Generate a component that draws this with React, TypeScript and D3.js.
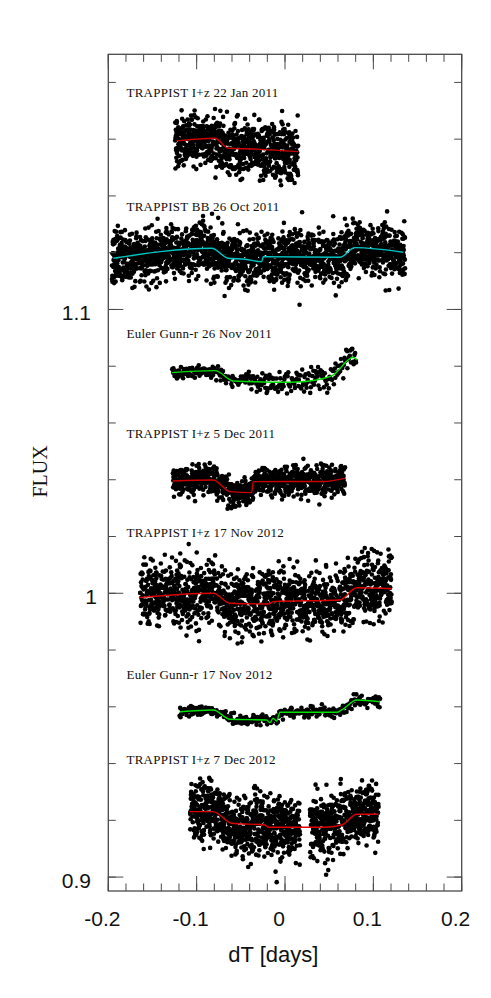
import React from 'react';
import * as d3 from 'd3';

const W = 491;
const H = 998;

// Axis ticks
const xMajor = [-0.2, -0.1, 0, 0.1, 0.2];
const xMajorLabels = ['-0.2', '-0.1', '0', '0.1', '0.2'];
const yMajor = [0.9, 1.0, 1.1];
const yMajorLabels = ['0.9', '1', '1.1'];

// Light-curve titles and their annotation positions (data units)
const titles = [
  'TRAPPIST I+z 22 Jan 2011',
  'TRAPPIST BB 26 Oct 2011',
  'Euler Gunn-r 26 Nov 2011',
  'TRAPPIST I+z 5 Dec 2011',
  'TRAPPIST I+z 17 Nov 2012',
  'Euler Gunn-r 17 Nov 2012',
  'TRAPPIST I+z 7 Dec 2012',
];
const titleFlux = [1.1748, 1.1348, 1.0899, 1.0548, 1.0199, 0.9698, 0.9397];
const titleT = -0.1794;
const lineColors = ['#cc0000', '#00c4c4', '#00dd00', '#cc0000', '#dd0000', '#00e000', '#dd0000'];

// Best-fit model curves
const m1T = [-0.1226, -0.0792, -0.0642, -0.032, 0.015];
const m1F = [1.1594, 1.1603, 1.1568, 1.1565, 1.1556];

const m2T = [-0.1943, -0.083, -0.0642, -0.0453, -0.0264, -0.0246, 0.0623, 0.0792, 0.1339];
const m2F = [1.11804, 1.12156, 1.11804, 1.1177, 1.11684, 1.1186, 1.1184, 1.12178, 1.12016];

const m3T = [-0.1282, -0.0792, -0.0585, 0.0057, 0.0359, 0.0547, 0.0773, 0.0811];
const m3F = [1.07773, 1.07843, 1.0748, 1.07435, 1.07516, 1.07692, 1.08316, 1.0822];

const m4T = [-0.1271, -0.0812, -0.0623, -0.0377, -0.0359, 0.0434, 0.0679];
const m4F = [1.03957, 1.03992, 1.0358, 1.03545, 1.03932, 1.0394, 1.0405];

const m5T = [-0.1653, -0.0812, -0.0623, -0.0189, -0.0132, 0.0623, 0.0811, 0.1208];
const m5F = [0.99845, 1.0, 0.99648, 0.99623, 0.99704, 0.99764, 1.00197, 1.0016];

const m6T = [-0.1188, -0.0812, -0.0623, -0.0207, -0.017, -0.0136, -0.0094, -0.0057, 0.0585, 0.0642, 0.0811, 0.1075];
const m6F = [0.95828, 0.95888, 0.9556, 0.95536, 0.9544, 0.95596, 0.95501, 0.95807, 0.95807, 0.95888, 0.9624, 0.9618];

const m7T = [-0.1075, -0.0812, -0.0604, -0.0226, -0.0192, 0.0434, 0.0642, 0.0811, 0.1056];
const m7F = [0.92305, 0.92305, 0.91896, 0.91836, 0.91755, 0.91755, 0.91836, 0.92213, 0.92213];

const modelT = [m1T, m2T, m3T, m4T, m5T, m6T, m7T];
const modelF = [m1F, m2F, m3F, m4F, m5F, m6F, m7F];

// Observation windows, number of points and photometric scatter (start/end)
const obsWindows = [
  [[-0.1245, 0.015]],
  [[-0.196, 0.136]],
  [[-0.128, 0.081]],
  [[-0.127, 0.068]],
  [[-0.164, 0.121]],
  [[-0.12, 0.108]],
  [[-0.1075, 0.017], [0.028, 0.106]],
];
const nPoints = [780, 1900, 280, 820, 1500, 320, 1250];
const sigmaStart = [0.0042, 0.0045, 0.0009, 0.0026, 0.0056, 0.0009, 0.0052];
const sigmaEnd = [0.0055, 0.0045, 0.0024, 0.0026, 0.0052, 0.0011, 0.0052];
const seeds = [0.11, 0.23, 0.37, 0.41, 0.53, 0.67, 0.79];

const x = d3.scaleLinear().domain([-0.2, 0.2]).range([108.3, 461.7]);
const y = d3.scaleLinear().domain([0.8951, 1.1899]).range([891, 54.3]);

function makePoints(k: number) {
  const rng = d3.randomLcg(seeds[k]);
  const norm = d3.randomNormal.source(rng)(0, 1);
  const model = d3.scaleLinear().domain(modelT[k]).range(modelF[k]).clamp(true);
  const wins = obsWindows[k];
  const spans = wins.map((w) => w[1] - w[0]);
  const total = d3.sum(spans);
  const n = nPoints[k];
  const pts: [number, number][] = [];
  for (let i = 0; i < n; i++) {
    let u = ((i + rng()) / n) * total;
    let t = wins[0][0];
    for (let j = 0; j < wins.length; j++) {
      if (u <= spans[j] || j === wins.length - 1) {
        t = wins[j][0] + Math.min(u, spans[j]);
        break;
      }
      u -= spans[j];
    }
    const frac = (t - wins[0][0]) / (wins[wins.length - 1][1] - wins[0][0]);
    const s = sigmaStart[k] + (sigmaEnd[k] - sigmaStart[k]) * frac;
    pts.push([t, model(t) + norm() * s]);
  }
  return pts;
}

export default function App() {
  const sets = React.useMemo(() => titles.map((_, k) => makePoints(k)), []);
  const line = d3
    .line<[number, number]>()
    .x((d) => x(d[0]))
    .y((d) => y(d[1]))
    .curve(d3.curveMonotoneX);

  const xMinor = d3.range(-0.2, 0.2001, 0.02);
  const yMinor = d3.range(0.9, 1.1801, 0.02);
  const [x0, x1] = x.range();
  const [y0, y1] = y.range();
  const frame = '#4a4a4a';

  return (
    <svg
      width={W}
      height={H}
      viewBox={`0 0 ${W} ${H}`}
      style={{ position: 'absolute', left: 0, top: 0, background: '#fff' }}
    >
      {/* data */}
      {sets.map((pts, k) => (
        <g key={'s' + k}>
          {pts.map((p, i) => (
            <circle key={i} cx={x(p[0])} cy={y(p[1])} r={2.3} fill="#000" />
          ))}
        </g>
      ))}
      {modelT.map((ts, k) => (
        <path
          key={'m' + k}
          d={line(ts.map((t, i) => [t, modelF[k][i]] as [number, number])) || ''}
          fill="none"
          stroke={lineColors[k]}
          strokeWidth={1.4}
        />
      ))}
      {titles.map((t, k) => (
        <text
          key={'t' + k}
          x={x(titleT)}
          y={y(titleFlux[k])}
          fontFamily="'Liberation Serif', 'DejaVu Serif', serif"
          fontSize={13}
          letterSpacing={0.25}
          fill="#111"
        >
          {t}
        </text>
      ))}

      {/* frame */}
      <rect x={x0} y={y1} width={x1 - x0} height={y0 - y1} fill="none" stroke={frame} strokeWidth={1.3} />
      {xMinor.map((v, i) => (
        <g key={'xm' + i} stroke={frame} strokeWidth={1}>
          <line x1={x(v)} x2={x(v)} y1={y0} y2={y0 - 7.5} />
          <line x1={x(v)} x2={x(v)} y1={y1} y2={y1 + 7.5} />
        </g>
      ))}
      {xMajor.map((v, i) => (
        <g key={'xM' + i} stroke={frame} strokeWidth={1}>
          <line x1={x(v)} x2={x(v)} y1={y0} y2={y0 - 15} />
          <line x1={x(v)} x2={x(v)} y1={y1} y2={y1 + 15} />
        </g>
      ))}
      {yMinor.map((v, i) => (
        <g key={'ym' + i} stroke={frame} strokeWidth={1}>
          <line x1={x0} x2={x0 + 7.5} y1={y(v)} y2={y(v)} />
          <line x1={x1} x2={x1 - 7.5} y1={y(v)} y2={y(v)} />
        </g>
      ))}
      {yMajor.map((v, i) => (
        <g key={'yM' + i} stroke={frame} strokeWidth={1}>
          <line x1={x0} x2={x0 + 15} y1={y(v)} y2={y(v)} />
          <line x1={x1} x2={x1 - 15} y1={y(v)} y2={y(v)} />
        </g>
      ))}

      {/* tick labels */}
      {xMajor.map((v, i) => (
        <text
          key={'xl' + i}
          x={x(v) - 6}
          y={925.5}
          textAnchor="middle"
          fontFamily="'Liberation Sans', Arial, sans-serif"
          fontSize={21}
          fill="#111"
        >
          {xMajorLabels[i]}
        </text>
      ))}
      {yMajor.map((v, i) => (
        <text
          key={'yl' + i}
          x={yMajorLabels[i].length === 1 ? 97 : 91}
          y={y(v) + 11}
          textAnchor="end"
          fontFamily="'Liberation Sans', Arial, sans-serif"
          fontSize={21}
          fill="#111"
        >
          {yMajorLabels[i]}
        </text>
      ))}

      {/* axis titles */}
      <text
        x={273.3}
        y={961.5}
        textAnchor="middle"
        fontFamily="'Liberation Sans', Arial, sans-serif"
        fontSize={22}
        fill="#111"
      >
        dT [days]
      </text>
      <text
        transform="translate(46.5,471.5) rotate(-90)"
        textAnchor="middle"
        fontFamily="'Liberation Serif', 'DejaVu Serif', serif"
        fontSize={20}
        fill="#111"
      >
        FLUX
      </text>
    </svg>
  );
}
